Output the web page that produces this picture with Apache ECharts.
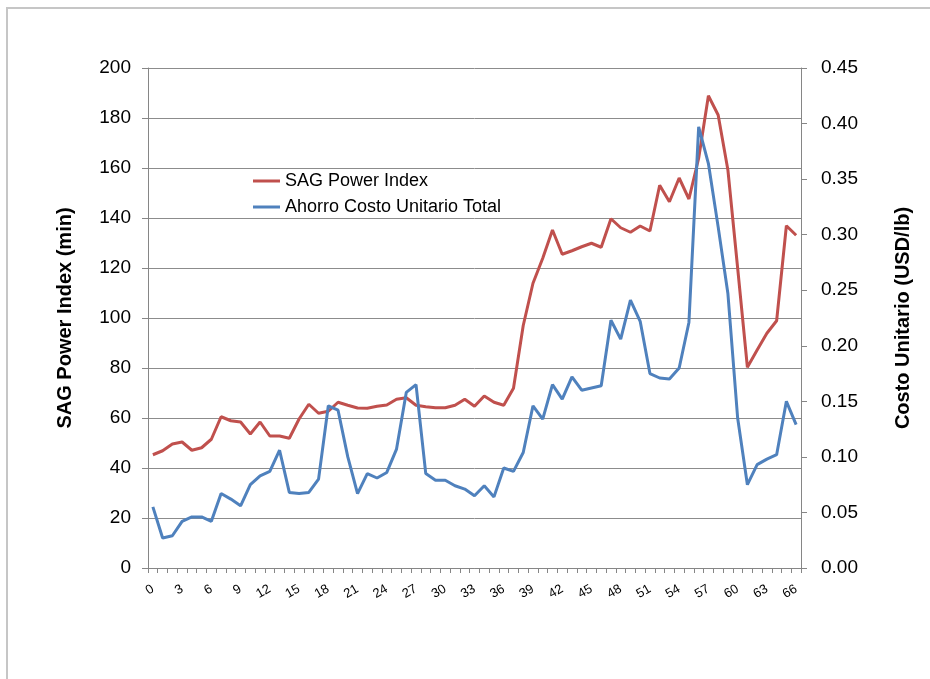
<!DOCTYPE html>
<html>
<head>
<meta charset="utf-8">
<title>SAG Power Index / Costo Unitario</title>
<script src="https://cdn.jsdelivr.net/npm/echarts@6/dist/echarts.min.js"></script>
<style>
  html, body { margin: 0; padding: 0; background: #fff; overflow: hidden; }
  .frame { position: absolute; left: 6px; top: 7px; width: 1000px; height: 1000px; border: 2px solid #c6c6c6; }
  #chart { position: absolute; left: 0; top: 0; width: 930px; height: 679px; }
</style>
</head>
<body>
<div class="frame"></div>
<div id="chart"></div>
<script>
// categorias (dias)
const categories = [
  '0', '1', '2', '3', '4', '5', '6', '7', '8', '9',
  '10', '11', '12', '13', '14', '15', '16', '17', '18', '19',
  '20', '21', '22', '23', '24', '25', '26', '27', '28', '29',
  '30', '31', '32', '33', '34', '35', '36', '37', '38', '39',
  '40', '41', '42', '43', '44', '45', '46', '47', '48', '49',
  '50', '51', '52', '53', '54', '55', '56', '57', '58', '59',
  '60', '61', '62', '63', '64', '65', '66'
];

// SAG Power Index (min) - eje izquierdo
const sagPowerIndex = [
  45.3, 46.9, 49.6, 50.4, 47.1, 48.1, 51.5, 60.5, 58.9, 58.4,
  53.6, 58.4, 52.8, 52.8, 51.9, 59.6, 65.5, 61.9, 62.7, 66.3,
  65.1, 64.0, 63.9, 64.7, 65.2, 67.5, 68.1, 65.1, 64.5, 64.1,
  64.1, 65.1, 67.5, 64.7, 68.8, 66.3, 65.1, 71.9, 97.0, 113.9,
  123.9, 135.2, 125.5, 126.9, 128.5, 129.9, 128.3, 139.7, 136.1, 134.3,
  136.8, 134.8, 153.1, 146.5, 156.0, 147.6, 163.9, 188.9, 181.2, 159.2,
  120.0, 80.3, 87.2, 93.9, 98.9, 136.9, 133.1
];

// Ahorro Costo Unitario Total (USD/lb) - eje derecho
const ahorroCosto = [
  0.055, 0.027, 0.029, 0.042, 0.046, 0.046, 0.042, 0.067, 0.062, 0.056,
  0.075, 0.083, 0.087, 0.106, 0.068, 0.067, 0.068, 0.080, 0.146, 0.142,
  0.100, 0.067, 0.085, 0.081, 0.086, 0.107, 0.158, 0.165, 0.085, 0.079,
  0.079, 0.074, 0.071, 0.065, 0.074, 0.064, 0.090, 0.087, 0.104, 0.146,
  0.134, 0.165, 0.152, 0.172, 0.160, 0.162, 0.164, 0.223, 0.206, 0.241,
  0.222, 0.175, 0.171, 0.170, 0.180, 0.221, 0.397, 0.364, 0.307, 0.247,
  0.135, 0.075, 0.093, 0.098, 0.102, 0.150, 0.129
];

const fontFamily = '"Liberation Sans", Arial, sans-serif';
const axisGray = '#868686';

let myChart = echarts.init(document.getElementById('chart'));

let options = {
  animation: false,
  textStyle: { fontFamily: fontFamily },
  grid: {
    left: 148,
    right: 129,
    top: 68,
    bottom: 111,
    outerBoundsMode: 'none'
  },
  legend: {
    orient: 'vertical',
    left: 253,
    top: 172,
    padding: 0,
    itemGap: 8,
    itemWidth: 27,
    itemHeight: 3,
    icon: 'rect',
    textStyle: { fontSize: 18, color: '#000', fontFamily: fontFamily },
    data: ['SAG Power Index', 'Ahorro Costo Unitario Total']
  },
  xAxis: {
    type: 'category',
    data: categories,
    boundaryGap: true,
    axisLine: { lineStyle: { color: axisGray, width: 1 } },
    axisTick: {
      show: true,
      interval: 0,
      length: 5,
      lineStyle: { color: axisGray }
    },
    axisLabel: {
      interval: 2,
      rotate: 30,
      fontSize: 13,
      color: '#000',
      margin: 20
    },
    splitLine: { show: false }
  },
  yAxis: [
    {
      type: 'value',
      min: 0,
      max: 200,
      interval: 20,
      name: 'SAG Power Index (min)',
      nameLocation: 'middle',
      nameRotate: 90,
      nameGap: 73,
      nameTextStyle: { fontSize: 20, fontWeight: 'bold', color: '#000' },
      axisLine: { show: true, lineStyle: { color: axisGray } },
      axisTick: { show: true, length: 6, lineStyle: { color: axisGray } },
      axisLabel: { fontSize: 19, color: '#000', margin: 17 },
      splitLine: { show: true, lineStyle: { color: '#8c8c8c', width: 1 } }
    },
    {
      type: 'value',
      position: 'right',
      min: 0,
      max: 0.45,
      interval: 0.05,
      name: 'Costo Unitario (USD/lb)',
      nameLocation: 'middle',
      nameRotate: 90,
      nameGap: 92,
      nameTextStyle: { fontSize: 20, fontWeight: 'bold', color: '#000' },
      axisLine: { show: true, lineStyle: { color: axisGray } },
      axisTick: { show: true, length: 6, lineStyle: { color: axisGray } },
      axisLabel: {
        fontSize: 19,
        color: '#000',
        margin: 20,
        formatter: v => v.toFixed(2)
      },
      splitLine: { show: false }
    }
  ],
  series: [
    {
      name: 'SAG Power Index',
      type: 'line',
      yAxisIndex: 0,
      data: sagPowerIndex,
      symbol: 'none',
      itemStyle: { color: '#C0504D' },
      lineStyle: { color: '#C0504D', width: 3 }
    },
    {
      name: 'Ahorro Costo Unitario Total',
      type: 'line',
      yAxisIndex: 1,
      data: ahorroCosto,
      symbol: 'none',
      itemStyle: { color: '#4F81BD' },
      lineStyle: { color: '#4F81BD', width: 3 }
    }
  ]
};

myChart.setOption(options);
</script>
</body>
</html>
